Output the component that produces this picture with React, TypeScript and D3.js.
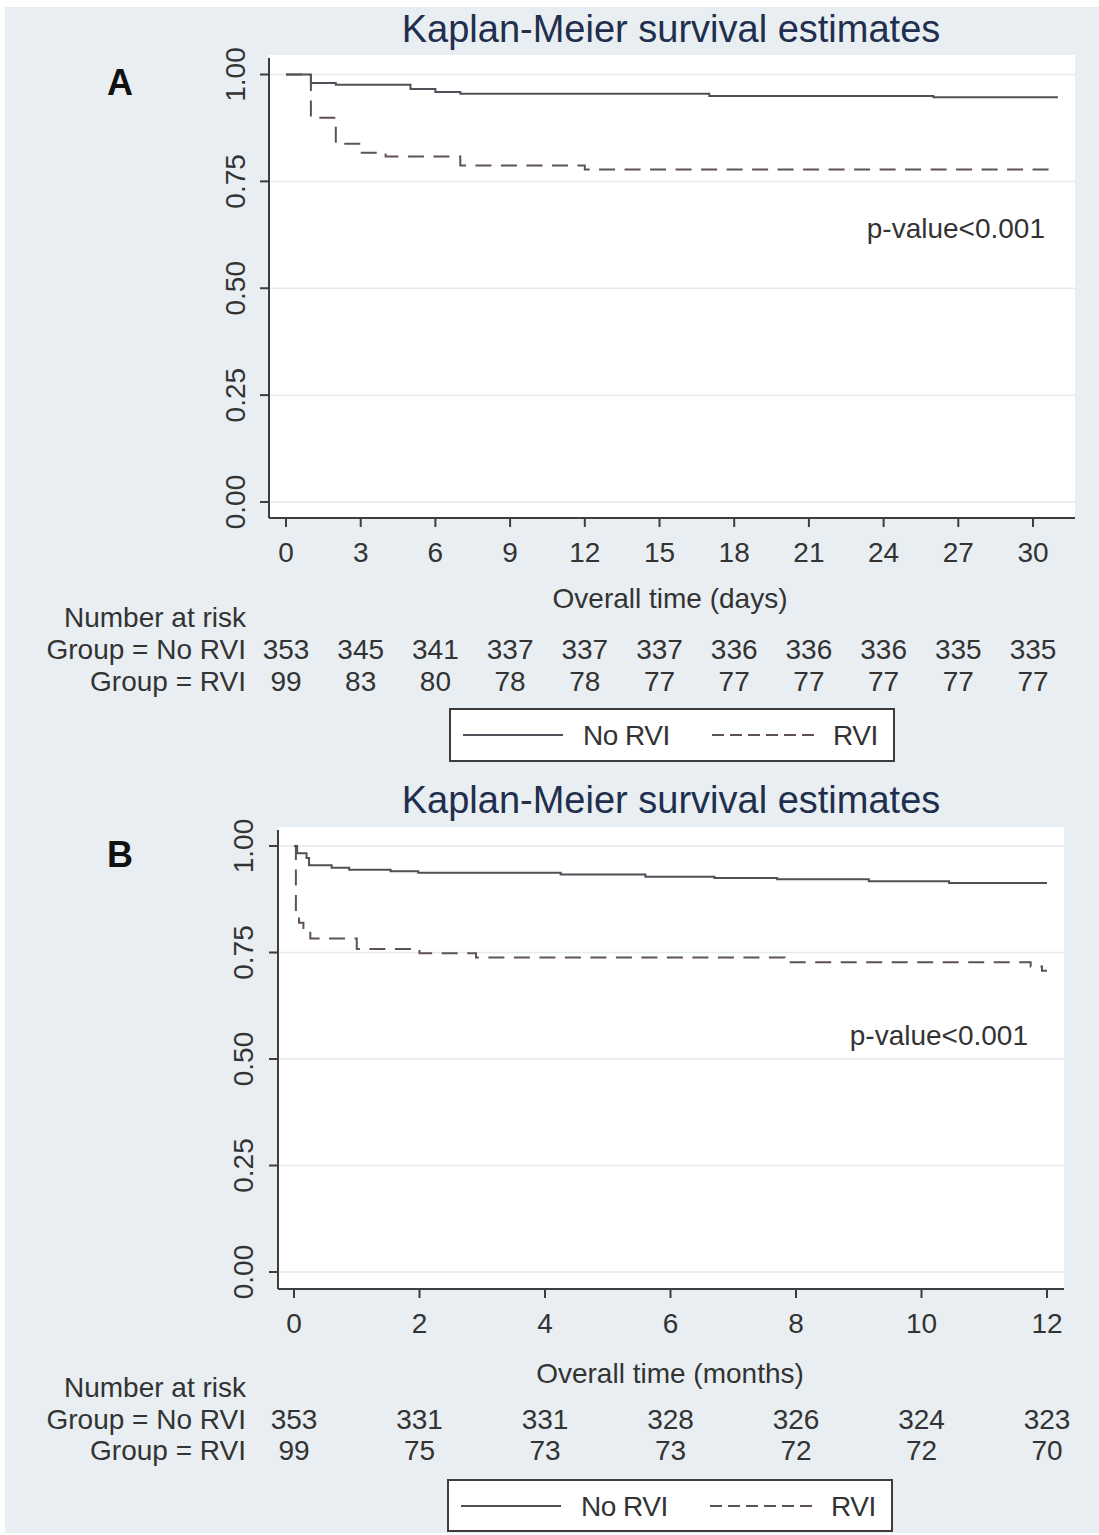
import React from "react";
import * as d3 from "d3";

// ---------- data ----------
const TITLE = "Kaplan-Meier survival estimates";
const yTicks = [0, 0.25, 0.5, 0.75, 1];
const yTickLabels = ["0.00", "0.25", "0.50", "0.75", "1.00"];

const dayTicks = [0, 3, 6, 9, 12, 15, 18, 21, 24, 27, 30];
const monthTicks = [0, 2, 4, 6, 8, 10, 12];

// Panel A (days)
const noRviDaysTime = [0, 1, 2, 5, 6, 7, 17, 26];
const noRviDaysSurv = [1, 0.98, 0.976, 0.966, 0.959, 0.955, 0.95, 0.947];
const rviDaysTime = [0, 1, 2, 3, 4, 7, 12];
const rviDaysSurv = [1, 0.899, 0.838, 0.817, 0.808, 0.787, 0.778];
const daysEnd = 31;

// Panel B (months)
const noRviMonthsTime = [0, 0.05, 0.2, 0.24, 0.6, 0.88, 1.54, 1.98, 4.25, 5.6, 6.7, 7.7, 9.16, 10.44];
const noRviMonthsSurv = [1, 0.983, 0.972, 0.955, 0.949, 0.944, 0.941, 0.937, 0.933, 0.928, 0.925, 0.922, 0.917, 0.913];
const rviMonthsTime = [0, 0.03, 0.08, 0.15, 0.26, 1.0, 2.0, 2.9, 7.82, 11.74, 11.92];
const rviMonthsSurv = [1, 0.84, 0.82, 0.8, 0.783, 0.758, 0.748, 0.738, 0.727, 0.717, 0.707];
const monthsEnd = 12;

// Number at risk
const riskNoRviDays = [353, 345, 341, 337, 337, 337, 336, 336, 336, 335, 335];
const riskRviDays = [99, 83, 80, 78, 78, 77, 77, 77, 77, 77, 77];
const riskNoRviMonths = [353, 331, 331, 328, 326, 324, 323];
const riskRviMonths = [99, 75, 73, 73, 72, 72, 70];

const groupLabels = ["Group = No RVI", "Group = RVI"];
const legendLabels = ["No RVI", "RVI"];
const pValueText = "p-value<0.001";

// ---------- styles ----------
const FONT = "'Liberation Sans', Arial, Helvetica, sans-serif";
const BG = "#e8eef1";
const TEXT = "#333333";
const AXIS = "#3d3d3d";
const NO_RVI_COLOR = "#4b5156";
const RVI_COLOR = "#5e5254";
const GRID = "#e6eaec";

type PanelCfg = {
  letter: string;
  titleBaseline: number;
  letterBaseline: number;
  axisX: number;
  plotRight: number;
  plotTop: number;
  axisY: number;
  y1: number;
  y0: number;
  xPix0: number;
  xPixMax: number;
  xMax: number;
  ticks: number[];
  xLabel: string;
  xLabelBaseline: number;
  riskBaselines: number[];
  risk: number[][];
  pRight: number;
  pBaseline: number;
  legend: { x0: number; x1: number; y0: number; y1: number; lineY: number; textBaseline: number };
  noRvi: { t: number[]; s: number[] };
  rvi: { t: number[]; s: number[] };
  tEnd: number;
  ylabelBaseX: number;
};

function Panel({ c }: { c: PanelCfg }) {
  const x = d3.scaleLinear().domain([0, c.xMax]).range([c.xPix0, c.xPixMax]);
  const y = d3.scaleLinear().domain([0, 1]).range([c.y0, c.y1]);
  const line = d3
    .line<[number, number]>()
    .x((d) => x(d[0]))
    .y((d) => y(d[1]))
    .curve(d3.curveStepAfter);
  const pts = (t: number[], s: number[]): [number, number][] => {
    const p: [number, number][] = t.map((tt, i) => [tt, s[i]]);
    p.push([c.tEnd, s[s.length - 1]]);
    return p;
  };
  const L = c.legend;
  return (
    <g fontFamily={FONT}>
      {/* plot region */}
      <rect x={c.axisX} y={c.plotTop} width={c.plotRight - c.axisX} height={c.axisY - c.plotTop} fill="#ffffff" />
      {yTicks.map((v) => (
        <line key={"g" + v} x1={c.axisX} x2={c.plotRight} y1={y(v)} y2={y(v)} stroke={GRID} strokeWidth={1.5} />
      ))}
      {/* title */}
      <text x={671} y={c.titleBaseline} textAnchor="middle" fontSize={38} fill="#1f2f4d">
        {TITLE}
      </text>
      <text x={120} y={c.letterBaseline} textAnchor="middle" fontSize={36} fontWeight="bold" fill="#111">
        {c.letter}
      </text>
      {/* curves */}
      <path d={line(pts(c.noRvi.t, c.noRvi.s)) || ""} fill="none" stroke={NO_RVI_COLOR} strokeWidth={2} />
      <path
        d={line(pts(c.rvi.t, c.rvi.s)) || ""}
        fill="none"
        stroke={RVI_COLOR}
        strokeWidth={2}
        strokeDasharray="16,9.5"
      />
      {/* axes */}
      <line x1={c.axisX} x2={c.axisX} y1={c.plotTop + 3} y2={c.axisY} stroke={AXIS} strokeWidth={2} />
      <line x1={c.axisX} x2={c.plotRight} y1={c.axisY} y2={c.axisY} stroke={AXIS} strokeWidth={2} />
      {yTicks.map((v, i) => (
        <g key={"yt" + v}>
          <line x1={c.axisX - 9} x2={c.axisX} y1={y(v)} y2={y(v)} stroke={AXIS} strokeWidth={2} />
          <text
            transform={`translate(${c.ylabelBaseX},${y(v)}) rotate(-90)`}
            textAnchor="middle"
            fontSize={28}
            fill={TEXT}
          >
            {yTickLabels[i]}
          </text>
        </g>
      ))}
      {c.ticks.map((v) => (
        <g key={"xt" + v}>
          <line x1={x(v)} x2={x(v)} y1={c.axisY} y2={c.axisY + 9} stroke={AXIS} strokeWidth={2} />
          <text x={x(v)} y={c.axisY + 44} textAnchor="middle" fontSize={28} fill={TEXT}>
            {v}
          </text>
        </g>
      ))}
      <text x={670} y={c.xLabelBaseline} textAnchor="middle" fontSize={28} fill={TEXT}>
        {c.xLabel}
      </text>
      {/* p-value */}
      <text x={c.pRight} y={c.pBaseline} textAnchor="end" fontSize={28} fill={TEXT}>
        {pValueText}
      </text>
      {/* number at risk */}
      <text x={246} y={c.riskBaselines[0]} textAnchor="end" fontSize={28} fill={TEXT}>
        Number at risk
      </text>
      {groupLabels.map((g, gi) => (
        <g key={g}>
          <text x={246} y={c.riskBaselines[gi + 1]} textAnchor="end" fontSize={28} fill={TEXT}>
            {g}
          </text>
          {c.risk[gi].map((n, i) => (
            <text key={i} x={x(c.ticks[i])} y={c.riskBaselines[gi + 1]} textAnchor="middle" fontSize={28} fill={TEXT}>
              {n}
            </text>
          ))}
        </g>
      ))}
      {/* legend */}
      <rect x={L.x0} y={L.y0} width={L.x1 - L.x0} height={L.y1 - L.y0} fill="#ffffff" stroke={AXIS} strokeWidth={2} />
      <line x1={L.x0 + 13} x2={L.x0 + 113} y1={L.lineY} y2={L.lineY} stroke={NO_RVI_COLOR} strokeWidth={2} />
      <text x={L.x0 + 133} y={L.textBaseline} fontSize={28} fill={TEXT} letterSpacing={-0.5}>
        {legendLabels[0]}
      </text>
      <line
        x1={L.x0 + 262}
        x2={L.x0 + 368}
        y1={L.lineY}
        y2={L.lineY}
        stroke={RVI_COLOR}
        strokeWidth={2}
        strokeDasharray="12,6"
      />
      <text x={L.x0 + 383} y={L.textBaseline} fontSize={28} fill={TEXT} letterSpacing={-0.5}>
        {legendLabels[1]}
      </text>
    </g>
  );
}

const panelA: PanelCfg = {
  letter: "A",
  titleBaseline: 42,
  letterBaseline: 95,
  axisX: 269,
  plotRight: 1075,
  plotTop: 55,
  axisY: 518,
  y1: 74.5,
  y0: 502,
  xPix0: 286,
  xPixMax: 1033,
  xMax: 30,
  ticks: dayTicks,
  xLabel: "Overall time (days)",
  xLabelBaseline: 608,
  riskBaselines: [627, 659, 691],
  risk: [riskNoRviDays, riskRviDays],
  pRight: 1045,
  pBaseline: 238,
  legend: { x0: 450, x1: 894, y0: 709, y1: 761, lineY: 735, textBaseline: 745 },
  noRvi: { t: noRviDaysTime, s: noRviDaysSurv },
  rvi: { t: rviDaysTime, s: rviDaysSurv },
  tEnd: daysEnd,
  ylabelBaseX: 245,
};

const panelB: PanelCfg = {
  letter: "B",
  titleBaseline: 813,
  letterBaseline: 867,
  axisX: 278,
  plotRight: 1064,
  plotTop: 827,
  axisY: 1289,
  y1: 846,
  y0: 1272,
  xPix0: 294,
  xPixMax: 1047,
  xMax: 12,
  ticks: monthTicks,
  xLabel: "Overall time (months)",
  xLabelBaseline: 1383,
  riskBaselines: [1397, 1429, 1460],
  risk: [riskNoRviMonths, riskRviMonths],
  pRight: 1028,
  pBaseline: 1045,
  legend: { x0: 448, x1: 892, y0: 1480, y1: 1531, lineY: 1506, textBaseline: 1516 },
  noRvi: { t: noRviMonthsTime, s: noRviMonthsSurv },
  rvi: { t: rviMonthsTime, s: rviMonthsSurv },
  tEnd: monthsEnd,
  ylabelBaseX: 253,
};

export default function App() {
  return (
    <div style={{ position: "absolute", left: 0, top: 0 }}>
      <svg width={1099} height={1535} style={{ display: "block" }}>
        <rect x={0} y={0} width={1099} height={1535} fill="#ffffff" />
        <rect x={5} y={7} width={1094} height={1526} fill={BG} />
        <Panel c={panelA} />
        <Panel c={panelB} />
      </svg>
    </div>
  );
}
